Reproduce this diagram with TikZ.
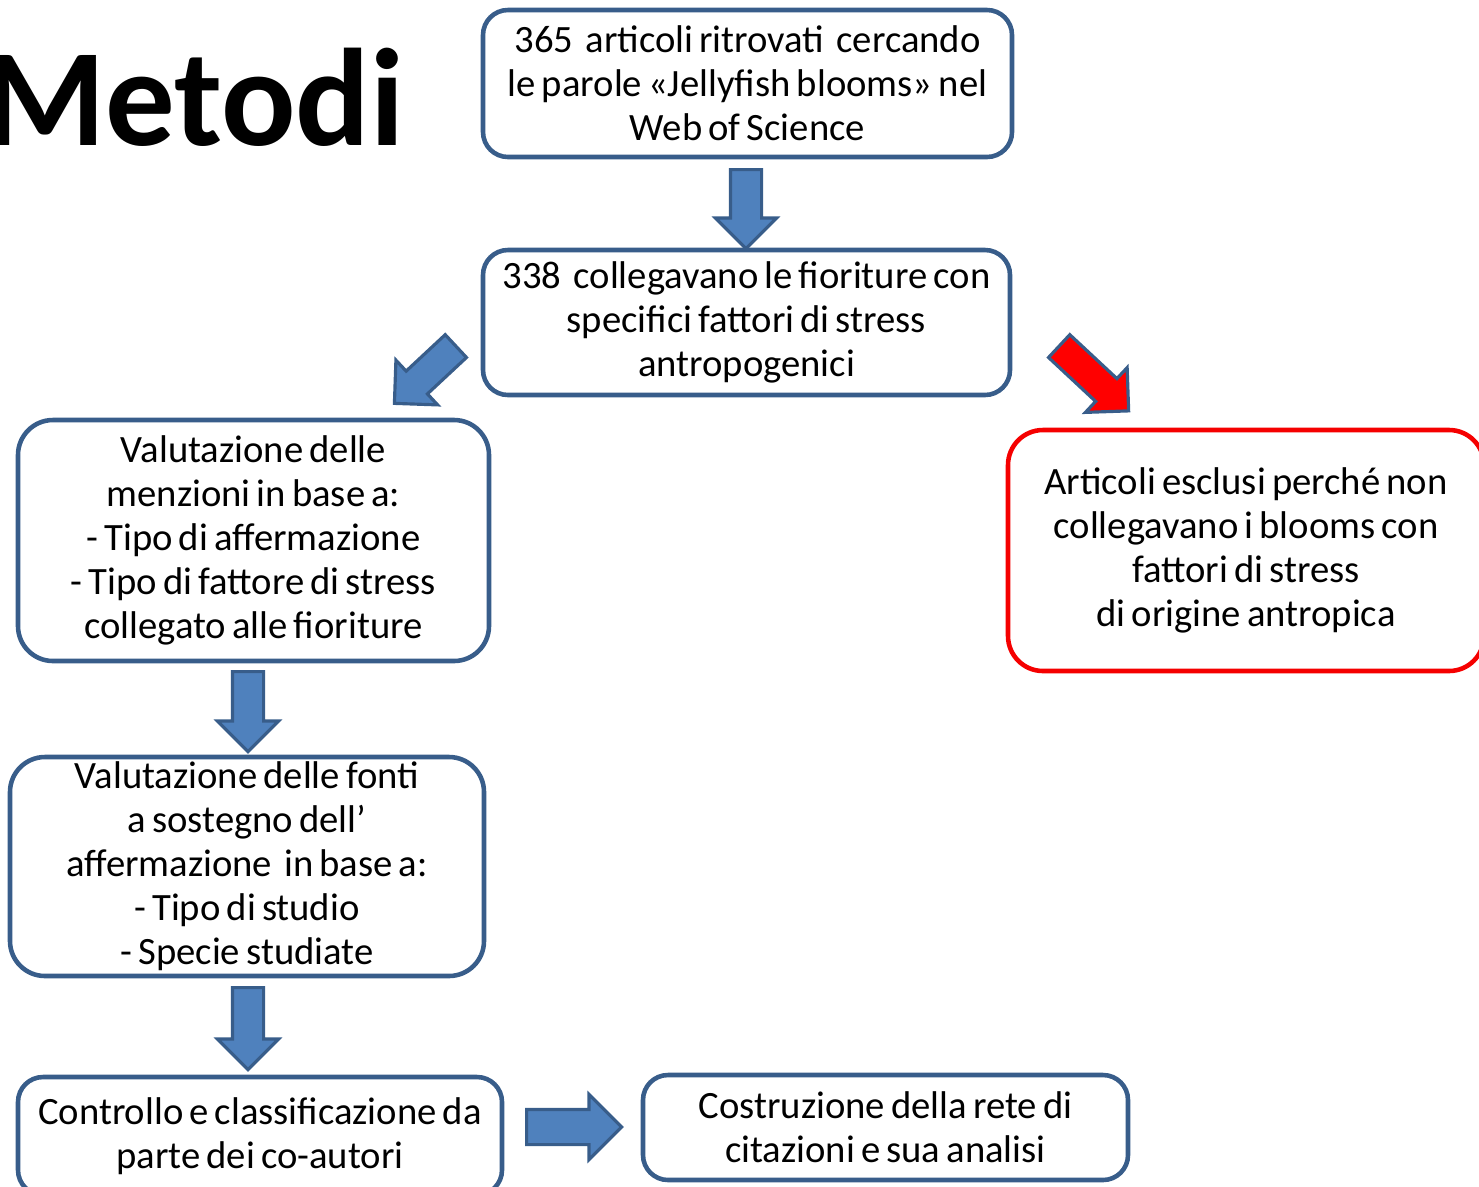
\documentclass[tikz,border=0pt]{standalone}
\usepackage{fontspec}
\setmainfont{Carlito}[WordSpace=0.7]
\usetikzlibrary{shapes.arrows}
\definecolor{bordoBlu}{RGB}{56,93,138}
\definecolor{frecciaBlu}{RGB}{79,129,189}
\definecolor{rossoEscl}{RGB}{245,0,0}

\begin{document}
\begin{tikzpicture}[
    box/.style={draw=bordoBlu, fill=white, line width=1.3pt, rounded corners=0.25cm, align=center, inner sep=0pt, font=\fontsize{11}{12.5}\selectfont},
    blockarrow/.style={single arrow, draw=bordoBlu, fill=frecciaBlu, line width=0.9pt, single arrow head extend=0.15cm, single arrow head indent=0pt, inner xsep=0pt, inner ysep=0.14cm, anchor=tail}
]
    \useasboundingbox (0,0) rectangle (14.79,-11.86);

    % titolo
    \node[font=\fontsize{39.5}{46}\selectfont\bfseries, anchor=base east, inner sep=0pt] (titolo) at (4.05,-1.45) {Metodi};

    % riquadri
    \node[box, minimum width=5.29cm, minimum height=1.47cm] (b1) at (7.475,-0.835) {365~ articoli ritrovati~ cercando\\le parole «Jellyfish blooms» nel\\Web of Science};
    \node[box, minimum width=5.27cm, minimum height=1.45cm] (b2) at (7.465,-3.225) {338~ collegavano le fioriture con\\specifici fattori di stress\\antropogenici};
    \node[box, rounded corners=0.35cm, minimum width=4.71cm, minimum height=2.41cm] (b3) at (2.535,-5.405) {Valutazione delle\\menzioni in base a:\\- Tipo di affermazione\\- Tipo di fattore di stress\\collegato alle fioriture};
    \node[box, rounded corners=0.35cm, draw=rossoEscl, minimum width=4.76cm, minimum height=2.41cm] (escl) at (12.46,-5.505) {Articoli esclusi perché non\\collegavano i blooms con\\fattori di stress\\di origine antropica};
    \node[box, rounded corners=0.35cm, minimum width=4.74cm, minimum height=2.19cm] (b4) at (2.47,-8.665) {Valutazione delle fonti\\a sostegno dell’\\affermazione~ in base a:\\- Tipo di studio\\- Specie studiate};
    \node[box, minimum width=4.84cm, minimum height=1.18cm] (b5) at (2.60,-11.36) {Controllo e classificazione da\\parte dei co-autori};
    \node[box, minimum width=4.85cm, minimum height=1.05cm] (b6) at (8.855,-11.275) {Costruzione della rete di\\citazioni e sua analisi};

    % frecce
    \node[blockarrow, minimum height=0.79cm, rotate=-90] (f1) at (7.46,-1.68) {};
    \node[blockarrow, minimum height=0.84cm, rotate=-137] (f2) at (4.57,-3.45) {};
    \node[blockarrow, minimum height=0.95cm, rotate=-43, fill=red] (f3) at (10.58,-3.45) {};
    \node[blockarrow, minimum height=0.80cm, rotate=-90] (f4) at (2.48,-6.70) {};
    \node[blockarrow, minimum height=0.82cm, rotate=-90] (f5) at (2.48,-9.86) {};
    \node[blockarrow, minimum height=0.95cm, inner ysep=0.16cm] (f6) at (5.25,-11.27) {};
\end{tikzpicture}
\end{document}
